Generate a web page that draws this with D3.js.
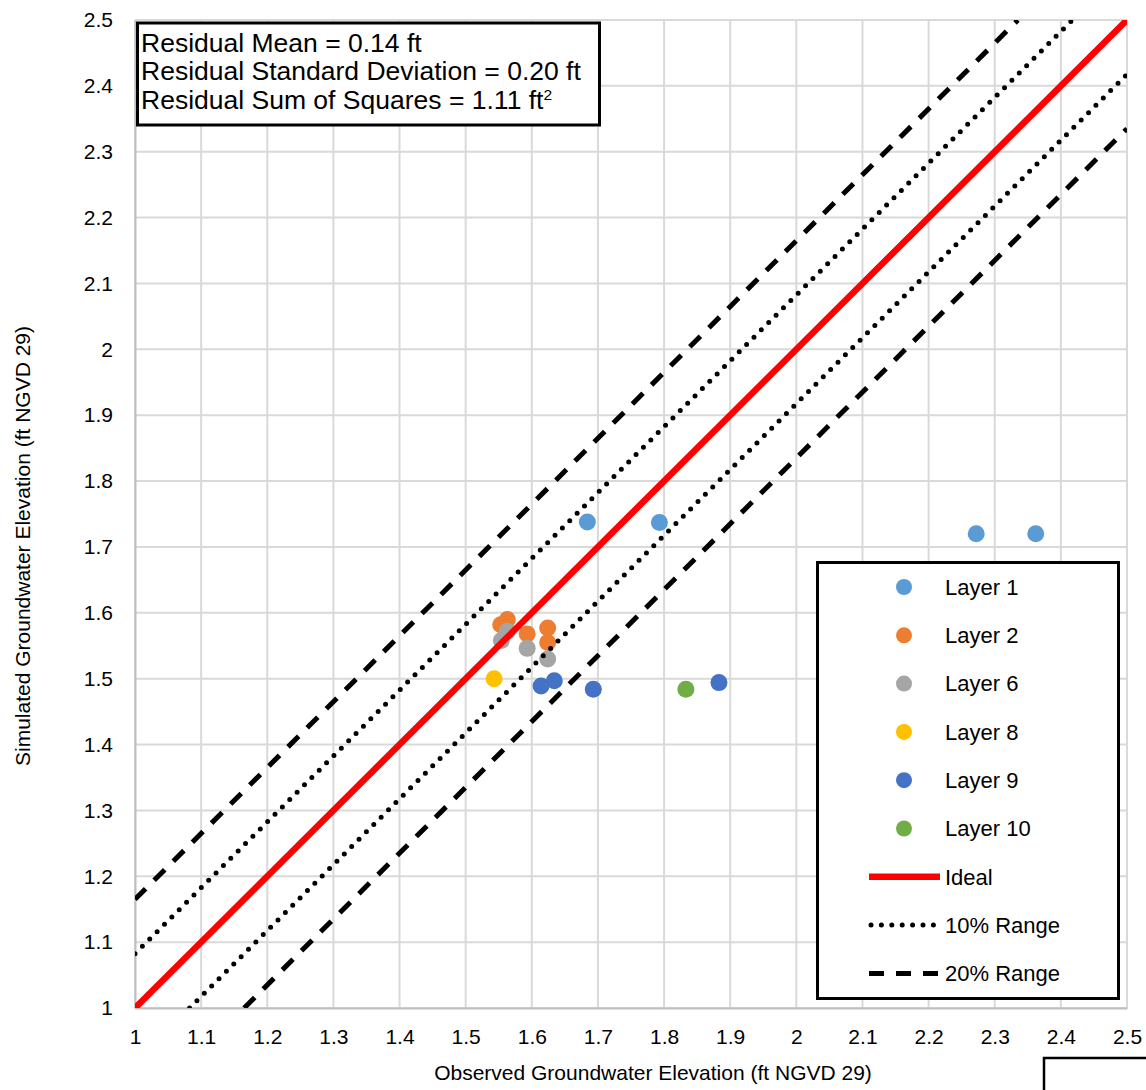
<!DOCTYPE html>
<html>
<head>
<meta charset="utf-8">
<script src="https://cdn.jsdelivr.net/npm/d3@7/dist/d3.min.js"></script>
<style>
  body { margin: 0; background: #fff; }
  text { font-family: "Liberation Sans", Arial, sans-serif; fill: #000; }
</style>
</head>
<body>
<div id="chart"></div>
<script>
// series names and colours
const layers = ["Layer 1", "Layer 2", "Layer 6", "Layer 8", "Layer 9", "Layer 10"];
const layerColors = ["#5B9BD5", "#ED7D31", "#A5A5A5", "#FFC000", "#4472C4", "#70AD47"];

// observed (x) and simulated (y) values per layer
const observed = [
    [1.684, 1.793, 2.272, 2.362],
    [1.553, 1.563, 1.593, 1.624, 1.624],
    [1.554, 1.563, 1.593, 1.624],
    [1.543],
    [1.614, 1.634, 1.693, 1.883],
    [1.833]
];
const simulated = [
    [1.738, 1.737, 1.720, 1.720],
    [1.582, 1.590, 1.568, 1.577, 1.555],
    [1.558, 1.572, 1.546, 1.530],
    [1.500],
    [1.489, 1.497, 1.484, 1.494],
    [1.484]
];

// reference lines: offset from ideal
const refNames = ["Ideal", "10% Range", "20% Range"];
const refOffsets = [0, 0.0825, 0.165];

const ticks = [1, 1.1, 1.2, 1.3, 1.4, 1.5, 1.6, 1.7, 1.8, 1.9, 2, 2.1, 2.2, 2.3, 2.4, 2.5];

const statLines = ["Residual Mean = 0.14 ft", "Residual Standard Deviation = 0.20 ft", "Residual Sum of Squares = 1.11 ft"];

let width = 1146, height = 1090;
let margin = {top: 20, right: 19, bottom: 82, left: 135};

let svg = d3.select("#chart").append("svg")
    .attr("width", width)
    .attr("height", height);

let x = d3.scaleLinear().domain([1, 2.5]).range([margin.left, width - margin.right]);
let y = d3.scaleLinear().domain([1, 2.5]).range([height - margin.bottom, margin.top]);

// grid
svg.append("g").selectAll("line.v").data(ticks).enter().append("line")
    .attr("x1", d => x(d)).attr("x2", d => x(d))
    .attr("y1", y(1)).attr("y2", y(2.5))
    .style("stroke", "#d9d9d9").style("stroke-width", 2);
svg.append("g").selectAll("line.h").data(ticks).enter().append("line")
    .attr("y1", d => y(d)).attr("y2", d => y(d))
    .attr("x1", x(1)).attr("x2", x(2.5))
    .style("stroke", "#d9d9d9").style("stroke-width", 2);

// axes
let xAxis = svg.append("g")
    .attr("transform", "translate(0," + y(1) + ")")
    .call(d3.axisBottom(x).tickValues(ticks).tickSize(0).tickPadding(21).tickFormat(d3.format("")));
let yAxis = svg.append("g")
    .attr("transform", "translate(" + x(1) + ",0)")
    .call(d3.axisLeft(y).tickValues(ticks).tickSize(0).tickPadding(22).tickFormat(d3.format("")));
[xAxis, yAxis].forEach(a => {
    a.select(".domain").style("stroke", "#bfbfbf").style("stroke-width", 2);
    a.selectAll("text").style("font-size", "21px").style("font-family", '"Liberation Sans", Arial, sans-serif');
});

// axis titles
svg.append("text")
    .attr("x", 653).attr("y", 1080)
    .attr("text-anchor", "middle")
    .style("font-size", "21px")
    .text("Observed Groundwater Elevation (ft NGVD 29)");
svg.append("text")
    .attr("transform", "translate(30,546) rotate(-90)")
    .attr("text-anchor", "middle")
    .style("font-size", "21px")
    .text("Simulated Groundwater Elevation (ft NGVD 29)");

svg.append("clipPath").attr("id", "plot-clip")
    .append("rect")
    .attr("x", x(1)).attr("y", y(2.5))
    .attr("width", x(2.5) - x(1)).attr("height", y(1) - y(2.5));

// scatter points
layers.forEach((name, i) => {
    let pts = observed[i].map((o, j) => ({x: o, y: simulated[i][j]}));
    svg.append("g").selectAll("circle").data(pts).enter().append("circle")
        .attr("cx", d => x(d.x))
        .attr("cy", d => y(d.y))
        .attr("r", 8.5)
        .style("fill", layerColors[i]);
});

// line styles
function styleRef(sel, k) {
    if (k === 0) {
        sel.style("stroke", "#ff0000").style("stroke-width", 6.5);
    } else if (k === 1) {
        sel.style("stroke", "#000").style("stroke-width", 5)
            .style("stroke-linecap", "round").style("stroke-dasharray", "0 10.4");
    } else {
        sel.style("stroke", "#000").style("stroke-width", 5)
            .style("stroke-dasharray", "15 12");
    }
    return sel;
}

let refG = svg.append("g").attr("clip-path", "url(#plot-clip)");
let line = d3.line().x(d => x(d[0])).y(d => y(d[1]));
refOffsets.forEach((off, k) => {
    let signs = off === 0 ? [0] : [1, -1];
    signs.forEach(s => {
        // y = x + s*off, clipped to the axis range
        let x0 = Math.max(1, 1 - s * off), x1 = Math.min(2.5, 2.5 - s * off);
        let path = refG.append("path")
            .attr("d", line([[x0, x0 + s * off], [x1, x1 + s * off]]))
            .style("fill", "none");
        styleRef(path, k);
    });
});

// stats box
svg.append("rect")
    .attr("x", 137.5).attr("y", 23).attr("width", 462).attr("height", 102)
    .style("fill", "#fff").style("stroke", "#000").style("stroke-width", 3);
let statG = svg.append("g").attr("transform", "translate(141,0) scale(1.04,1)");
statLines.forEach((t, i) => {
    let txt = statG.append("text")
        .attr("x", 0).attr("y", 52 + i * 28.5)
        .style("font-size", "25.5px")
        .text(t);
    if (i === 2) {
        txt.append("tspan").attr("dy", -9).style("font-size", "15px").text("2");
    }
});

// legend
let legend = svg.append("g");
legend.append("rect")
    .attr("x", 817.5).attr("y", 562.5).attr("width", 301).attr("height", 436)
    .style("fill", "#fff").style("stroke", "#000").style("stroke-width", 3);
let rowY = i => 587 + i * 48.3;
layers.forEach((name, i) => {
    legend.append("circle").attr("cx", 904).attr("cy", rowY(i)).attr("r", 8).style("fill", layerColors[i]);
    legend.append("text").attr("x", 945).attr("y", rowY(i)).attr("dy", "0.35em")
        .style("font-size", "22px").text(name);
});
refNames.forEach((name, k) => {
    let i = layers.length + k;
    let l = legend.append("line")
        .attr("x1", k === 1 ? 871 : 869).attr("x2", 940)
        .attr("y1", rowY(i)).attr("y2", rowY(i));
    styleRef(l, k);
    legend.append("text").attr("x", 945).attr("y", rowY(i)).attr("dy", "0.35em")
        .style("font-size", "22px").text(name);
});

// stray box at lower right
svg.append("rect")
    .attr("x", 1044).attr("y", 1058).attr("width", 130).attr("height", 60)
    .style("fill", "none").style("stroke", "#000").style("stroke-width", 2.5);
</script>
</body>
</html>
